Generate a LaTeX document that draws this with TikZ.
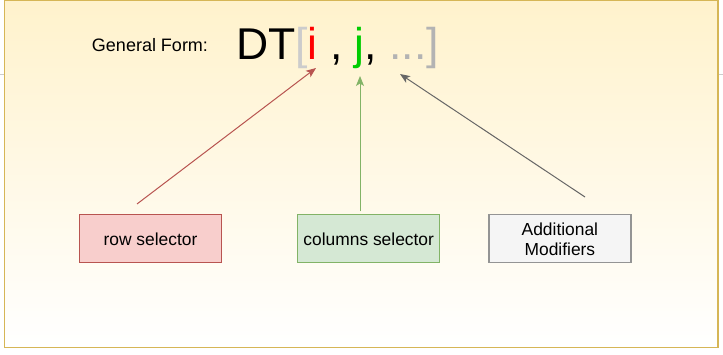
\documentclass[tikz,border=0pt]{standalone}
\usepackage{fontspec}
\setmainfont{Liberation Sans}
\usetikzlibrary{positioning,arrows.meta}
\definecolor{framefill}{HTML}{FFF2CC}
\definecolor{frameline}{HTML}{D6B656}
\definecolor{rowfill}{HTML}{F8CECC}
\definecolor{rowline}{HTML}{B85450}
\definecolor{colfill}{HTML}{D5E8D4}
\definecolor{colline}{HTML}{82B366}
\definecolor{modfill}{HTML}{F5F5F5}
\definecolor{modline}{HTML}{666666}
\definecolor{selred}{HTML}{FF0000}
\definecolor{selgreen}{HTML}{00CC00}
\definecolor{bracketlight}{HTML}{CCCCCC}
\definecolor{bracketdark}{HTML}{B3B3B3}

\begin{document}
\begin{tikzpicture}
  [x=1pt, y=1pt,
   selbox/.style={draw, line width=1.2pt, minimum width=142pt, minimum height=48pt,
     inner sep=0pt, align=center, font=\fontsize{17.4}{20}\selectfont},
   pointer/.style={line width=1pt, -{Stealth[length=10pt, width=8pt, inset=2.5pt]}}]
  \useasboundingbox (0,0) rectangle (723,-355);
  % grey line running behind the frame
  \draw[bracketlight, line width=1.5pt] (0,-74.5) -- (723,-74.5);
  \draw[frameline, line width=1.5pt, top color=framefill, bottom color=white]
    (4.5,-0.75) rectangle (718,-347.5);
  % the general form
  \node[font=\fontsize{18}{22}\selectfont] (genform) at (150,-45) {General Form:};
  \node[anchor=base west, inner sep=0pt, font=\fontsize{44.5}{50}\selectfont] (expr) at (236,-60)
    {DT\textcolor{bracketlight}{[}\textcolor{selred}{i} , \textcolor{selgreen}{j},
     \textcolor{bracketdark}{...]}};
  % selector boxes
  \node[selbox, draw=rowline, fill=rowfill] (rowsel) at (150.5,-238.8) {row selector};
  \node[selbox, draw=colline, fill=colfill, right=75pt of rowsel] (colsel) {columns selector};
  \node[selbox, draw=modline!70, fill=modfill, right=48pt of colsel] (modsel) {Additional\\Modifiers};
  % arrow ends
  \coordinate (rowtail) at (137,-204);
  \coordinate (rowtip) at (316,-68);
  \coordinate (coltail) at (360,-211.5);
  \coordinate (coltip) at (360,-76);
  \coordinate (modtail) at (585,-197);
  \coordinate (modtip) at (400,-74);
  \draw[pointer, rowline] (rowtail) -- (rowtip);
  \draw[pointer, colline] (coltail) -- (coltip);
  \draw[pointer, modline] (modtail) -- (modtip);
\end{tikzpicture}
\end{document}
